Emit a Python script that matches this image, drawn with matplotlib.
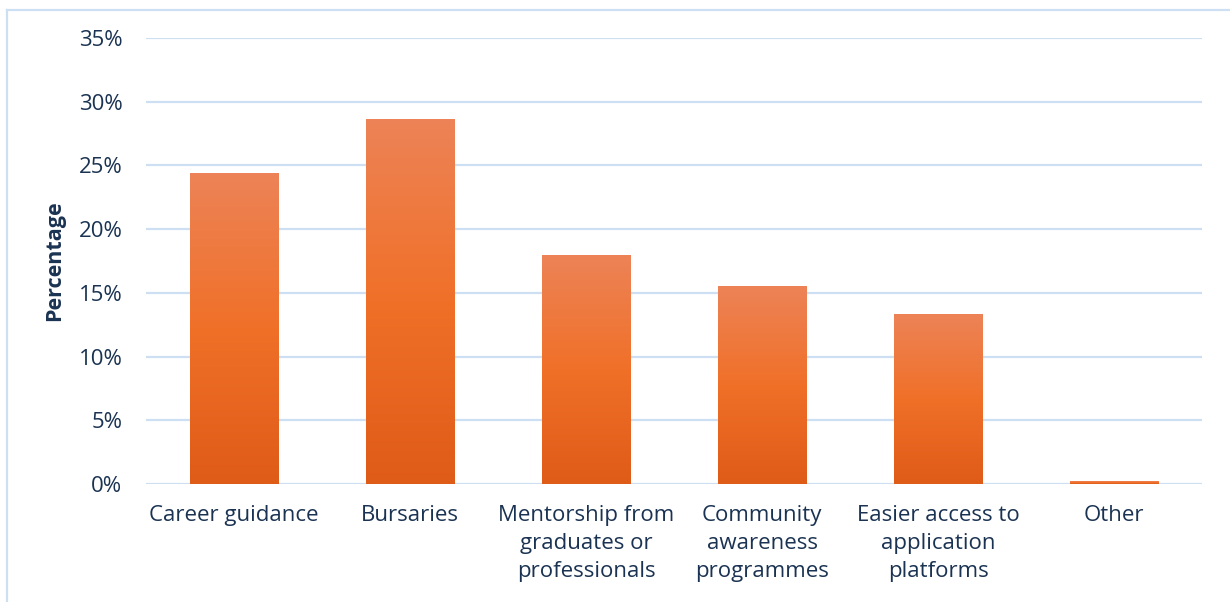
import numpy as np
import matplotlib
matplotlib.use("Agg")
import matplotlib.pyplot as plt
from matplotlib.colors import LinearSegmentedColormap
from matplotlib.lines import Line2D

categories = [
    "Career guidance",
    "Bursaries",
    "Mentorship from\ngraduates or\nprofessionals",
    "Community\nawareness\nprogrammes",
    "Easier access to\napplication\nplatforms",
    "Other",
]
percentages = [24.4, 28.6, 17.9, 15.5, 13.3, 0.2]
y_ticks = [0, 5, 10, 15, 20, 25, 30, 35]
y_tick_labels = [f"{t}%" for t in y_ticks]

text_color = "#1b3352"
grid_color = "#cde0f3"

plt.rcParams["font.family"] = ["Open Sans", "DejaVu Sans"]

fig = plt.figure(figsize=(12.30, 6.02), dpi=100)
ax = fig.add_axes([146 / 1230, 1 - 484 / 602, (1202 - 146) / 1230, (484 - 38) / 602])

# vertical orange gradient: light at top, bright in the middle, deeper at the base
grad_cmap = LinearSegmentedColormap.from_list(
    "bar_grad", ["#df5b18", "#f07028", "#ed8357"]
)
bar_width = 0.505
x = np.arange(len(categories))
grad = np.linspace(0, 1, 256).reshape(-1, 1)
for xi, val in zip(x, percentages):
    ax.imshow(
        grad,
        cmap=grad_cmap,
        origin="lower",
        aspect="auto",
        extent=(xi - bar_width / 2, xi + bar_width / 2, 0, val),
        zorder=3,
        interpolation="bilinear",
    )

ax.set_xlim(-0.5, len(categories) - 0.5)
ax.set_ylim(0, 35)
ax.set_yticks(y_ticks)
ax.set_yticklabels(y_tick_labels)
ax.set_xticks(x)
ax.set_xticklabels(categories, linespacing=1.45, va="top")

ax.yaxis.grid(True, color=grid_color, linewidth=1.6, zorder=0)
ax.set_axisbelow(True)
for side in ["top", "right", "left", "bottom"]:
    ax.spines[side].set_visible(False)
ax.tick_params(axis="both", length=0, colors=text_color, labelsize=16)
ax.tick_params(axis="y", pad=17)
ax.tick_params(axis="x", pad=15)

ax.set_ylabel("Percentage", fontsize=15.5, fontweight="bold", color=text_color)
ax.yaxis.set_label_coords(-(146 - 65) / 1056, 0.5)

# frame lines at the top and left of the figure
fig.add_artist(Line2D([7 / 1230, 1.0], [1 - 10 / 602, 1 - 10 / 602],
                      transform=fig.transFigure, color=grid_color, linewidth=1.6))
fig.add_artist(Line2D([7 / 1230, 7 / 1230], [0, 1 - 10 / 602],
                      transform=fig.transFigure, color=grid_color, linewidth=1.6))

fig.savefig("out.png", dpi=100, facecolor="white")
